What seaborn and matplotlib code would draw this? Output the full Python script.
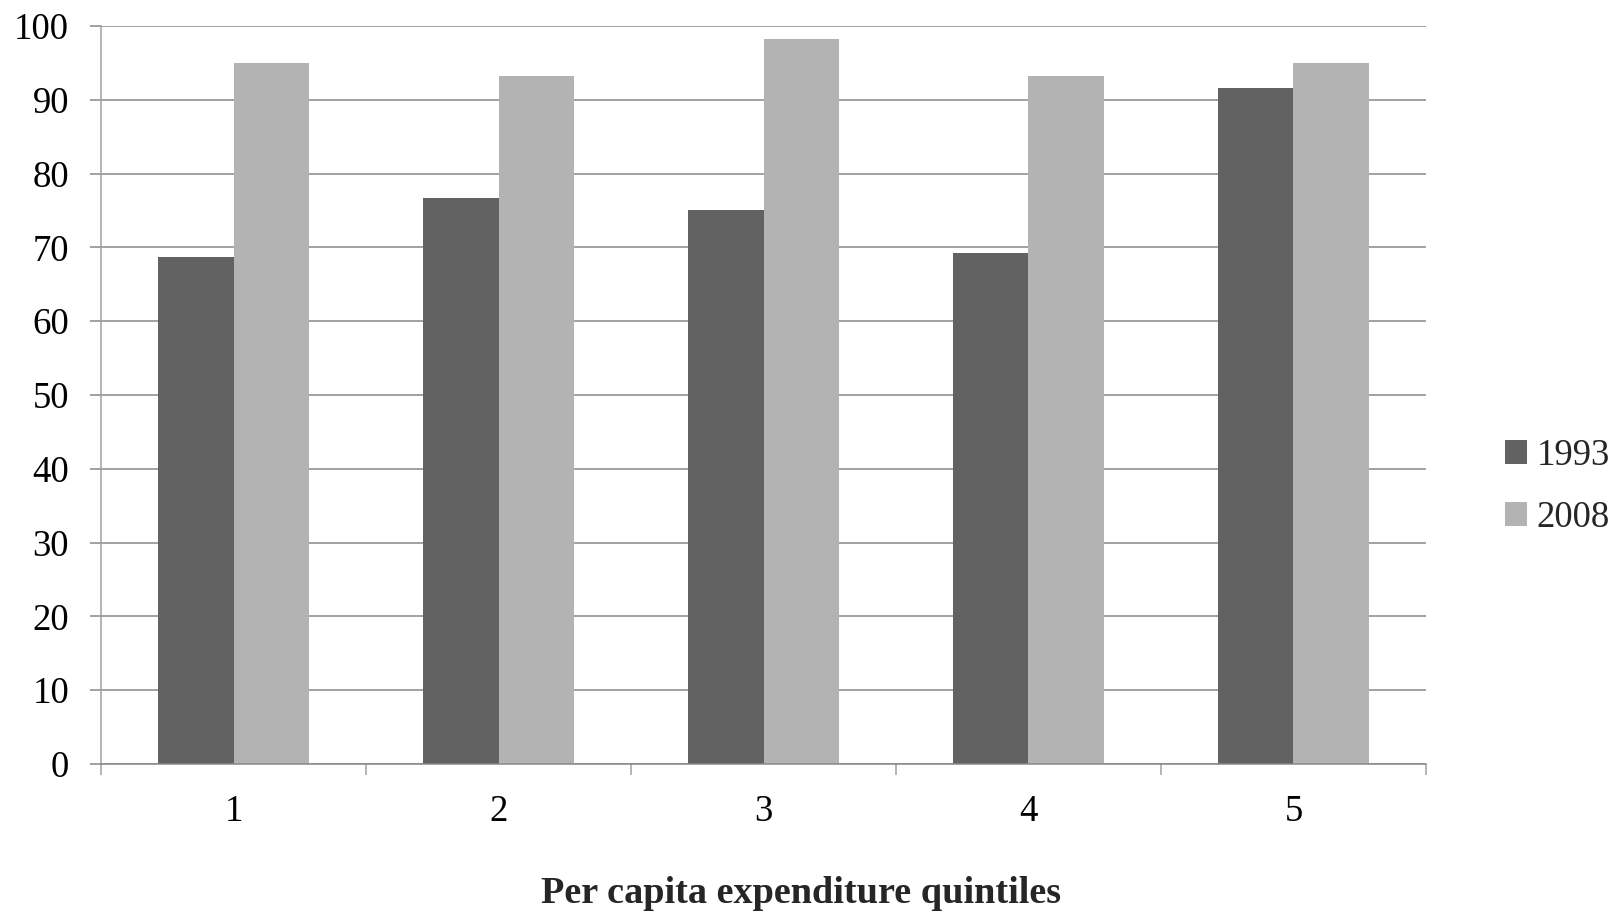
import matplotlib
matplotlib.use("Agg")
import matplotlib.pyplot as plt
from matplotlib.ticker import FixedLocator
import pandas as pd
import seaborn as sns

# Share (%) by per capita expenditure quintile
quintiles = ["1", "2", "3", "4", "5"]
years = ["1993", "2008"]
values_1993 = [68.7, 76.7, 75.0, 69.3, 91.6]
values_2008 = [95.0, 93.2, 98.3, 93.2, 95.0]
y_ticks = [0, 10, 20, 30, 40, 50, 60, 70, 80, 90, 100]

df = pd.DataFrame({
    "quintile": quintiles * 2,
    "year": [years[0]] * len(quintiles) + [years[1]] * len(quintiles),
    "value": values_1993 + values_2008,
})

sns.set_theme(style="white")
plt.rcParams["font.family"] = ["Liberation Serif", "DejaVu Serif"]

grid_col = "#878787"
fig = plt.figure(figsize=(16.14, 9.22), dpi=100)
ax = fig.add_axes([0.0626, 0.1714, 0.8209, 0.8004])

sns.barplot(
    data=df, x="quintile", y="value", hue="year",
    order=quintiles, hue_order=years,
    palette={"1993": "#626262", "2008": "#b3b3b3"},
    width=0.567, saturation=1, linewidth=0, ax=ax,
)

ax.set_xlim(-0.5, len(quintiles) - 0.5)
ax.set_ylim(0, 100)
ax.set_yticks(y_ticks)
ax.set_axisbelow(True)
ax.yaxis.grid(True, color=grid_col, linewidth=1.1)
ax.xaxis.grid(False)

for side in ["top", "right"]:
    ax.spines[side].set_visible(False)
ax.spines["left"].set_color("#a0a0a0")
ax.spines["left"].set_linewidth(1.1)
ax.spines["bottom"].set_color(grid_col)
ax.spines["bottom"].set_linewidth(1.1)

ax.tick_params(axis="y", which="major", direction="out", length=8, width=1.1,
               color=grid_col, pad=15, labelsize=26.5, labelcolor="black", left=True)
ax.tick_params(axis="x", which="major", length=0, pad=22, labelsize=26.5,
               labelcolor="black", bottom=True)
ax.xaxis.set_minor_locator(FixedLocator([i - 0.5 for i in range(len(quintiles) + 1)]))
ax.tick_params(axis="x", which="minor", direction="out", length=8, width=1.1,
               color="#a0a0a0", bottom=True)

ax.set_xlabel("")
ax.set_ylabel("")

handles, labels = ax.get_legend_handles_labels()
ax.get_legend().remove()
fig.legend(handles, labels, loc="center left", bbox_to_anchor=(0.9325, 0.472),
           frameon=False, fontsize=26.5, handlelength=0.6, handleheight=0.6,
           handletextpad=0.25, labelspacing=0.75, borderpad=0, borderaxespad=0)

fig.text(0.496, 0.012, "Per capita expenditure quintiles", ha="center", va="bottom",
         fontsize=27.5, fontweight="bold")

fig.savefig("out.png", dpi=100, facecolor="white")
